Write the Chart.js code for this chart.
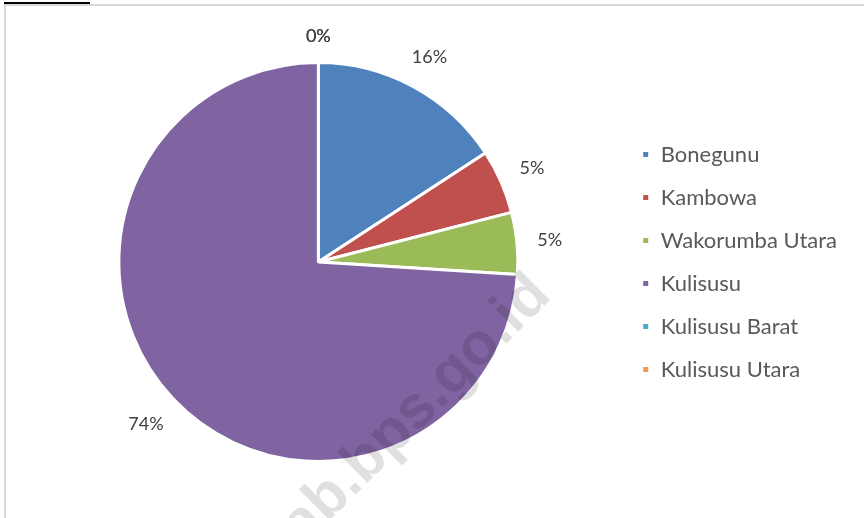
<!DOCTYPE html>
<html>
<head>
<meta charset="utf-8">
<script src="https://cdn.jsdelivr.net/npm/chart.js@4/dist/chart.umd.min.js"></script>
<style>
  html, body { margin: 0; padding: 0; background: #fff; }
  #wrap { position: relative; width: 864px; height: 518px; overflow: hidden; }
  #frame { position: absolute; left: 4px; top: 4px; width: 900px; height: 600px;
           border-top: 2px solid #d9d9d9; border-left: 2px solid #d9d9d9; }
  #tab { position: absolute; left: 4px; top: 2px; width: 86px; height: 2px; background: #000; }
  #box { position: absolute; left: 0; top: 0; width: 864px; height: 518px; }
</style>
</head>
<body>
<div id="wrap">
  <div id="frame"></div>
  <div id="tab"></div>
  <div id="box"><canvas id="chartPie"></canvas></div>
</div>
<script>
// ── Data ──────────────────────────────────────────────────
const districts = ["Bonegunu", "Kambowa", "Wakorumba Utara", "Kulisusu", "Kulisusu Barat", "Kulisusu Utara"];
const shares = [15.8, 5.2, 5.0, 74.0, 0, 0];
const sliceColors = ["#4f81bd", "#c0504d", "#9bbb59", "#8064a2", "#4bacc6", "#f79646"];

const FONT = "Lato, 'Noto Sans', sans-serif";

// percent labels outside each slice
const outsideLabels = {
  id: "outsideLabels",
  afterDatasetsDraw(chart) {
    const { ctx } = chart;
    const meta = chart.getDatasetMeta(0);
    const values = chart.data.datasets[0].data;
    const total = values.reduce((a, b) => a + b, 0);
    ctx.save();
    ctx.font = "18px " + FONT;
    ctx.fillStyle = "#404040";
    ctx.textAlign = "center";
    ctx.textBaseline = "middle";
    meta.data.forEach((arc, i) => {
      const mid = (arc.startAngle + arc.endAngle) / 2;
      const text = Math.round((values[i] / total) * 100) + "%";
      const w = ctx.measureText(text).width;
      const cx = Math.cos(mid), sy = Math.sin(mid);
      const extent = Math.abs(cx) * w / 2 + Math.abs(sy) * 6;
      const d = arc.outerRadius + 20 + extent;
      ctx.fillText(text, arc.x + cx * d, arc.y + sy * d);
    });
    ctx.restore();
  },
};

// site watermark
const watermark = {
  id: "watermark",
  afterDraw(chart) {
    const { ctx } = chart;
    ctx.save();
    ctx.font = "bold 60px 'Liberation Sans', Arial, sans-serif";
    ctx.fillStyle = "rgba(0,0,0,0.12)";
    ctx.textBaseline = "alphabetic";
    ctx.translate(355, 488);
    ctx.rotate(-45 * Math.PI / 180);
    const prefix = "butonutarakab";
    const off = ctx.measureText(prefix).width + 0.139 * 60;
    ctx.fillText(prefix + ".bps.go.id", -off, 5);
    ctx.restore();
  },
};

new Chart(document.getElementById("chartPie"), {
  type: "pie",
  data: {
    labels: districts,
    datasets: [
      {
        data: shares,
        backgroundColor: sliceColors,
        borderColor: "#ffffff",
        borderWidth: 3,
      },
    ],
  },
  options: {
    responsive: true,
    maintainAspectRatio: false,
    animation: false,
    layout: { padding: { top: 61, bottom: 55, left: 16, right: 17 } },
    plugins: {
      legend: {
        display: true,
        position: "right",
        align: "center",
        labels: {
          boxWidth: 8,
          boxHeight: 8,
          padding: 21,
          color: "#595959",
          font: { family: FONT, size: 22 },
        },
      },
      tooltip: { enabled: false },
    },
  },
  plugins: [outsideLabels, watermark],
});
</script>
</body>
</html>
